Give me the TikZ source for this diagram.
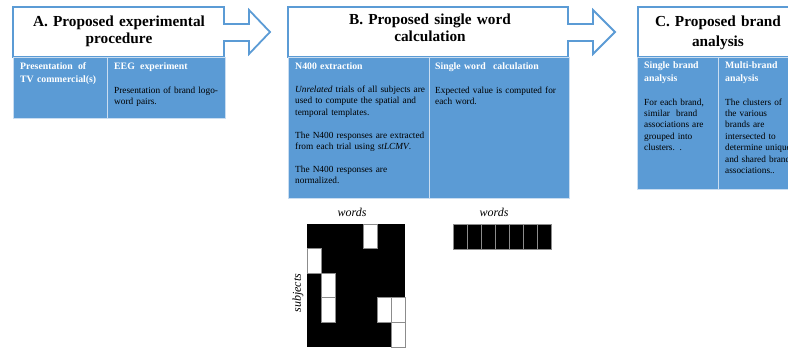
\documentclass[tikz,border=0pt]{standalone}
\usepackage{fontspec}
\setmainfont{Liberation Serif}
\definecolor{cellblue}{HTML}{5B9BD5}
\definecolor{cellline}{HTML}{C9DDF1}
\definecolor{hdrline}{HTML}{5B9BD5}
\definecolor{gridline}{HTML}{8C8C8C}
\begin{document}
\hyphenpenalty=10000\relax
\begin{tikzpicture}[x=1pt,y=-1pt,
 hdr/.style={draw=hdrline, line width=1.8pt, fill=white, line join=miter},
 cell/.style={draw=cellline, line width=0.8pt, fill=cellblue, inner sep=0pt, anchor=north west},
 ttl/.style={align=center, text width=220pt, inner sep=0pt, anchor=base},
 head/.style={font=\bfseries\fontsize{9.8}{13}\selectfont, text=white, align=left, text width=140pt, inner sep=0pt, anchor=base west},
 body/.style={font=\fontsize{9.3}{11.4}\selectfont, text=black, align=left, text width=140pt, inner sep=0pt, anchor=base west},
 lbl/.style={font=\itshape\fontsize{12}{14}\selectfont, inner sep=0pt},
 blk/.style={fill=black},
 wht/.style={fill=white, draw=gridline, line width=0.8pt},
 rcell/.style={fill=black, draw=gridline, line width=0.8pt},
]
\useasboundingbox (0,0) rectangle (788,348);
\clip (0,0) rectangle (788,348);

% header callouts
\draw[hdr] (13,57) -- (13,7) -- (224,7) -- (224,24) -- (249,24) -- (249,10) -- (270,32) -- (249,54) -- (249,41) -- (224,41) -- (224,57) -- cycle;
\draw[hdr] (288,57) -- (288,7) -- (568,7) -- (568,24) -- (593,24) -- (593,10) -- (615,32) -- (593,54) -- (593,41) -- (568,41) -- (568,57) -- cycle;
\draw[hdr] (638,57) -- (638,7) -- (800,7) -- (800,57) -- cycle;

% titles
\node[ttl, font=\bfseries\fontsize{15.3}{17}\selectfont] (ta) at (119,26.5) {A. Proposed experimental\\procedure};
\node[ttl, font=\bfseries\fontsize{15.3}{17.5}\selectfont] (tb) at (430,24) {B. Proposed single word\\calculation};
\node[ttl, font=\bfseries\fontsize{15.3}{19.5}\selectfont] (tc) at (718,27) {C. Proposed brand\\analysis};

% cells
\node[cell, minimum width=94pt, minimum height=61pt] (a1) at (13,57) {};
\node[cell, minimum width=118pt, minimum height=61pt] (a2) at (107,57) {};
\node[cell, minimum width=141pt, minimum height=141pt] (b1) at (288,57) {};
\node[cell, minimum width=140pt, minimum height=141pt] (b2) at (429,57) {};
\node[cell, minimum width=81pt, minimum height=132pt] (c1) at (637,57) {};
\node[cell, minimum width=90pt, minimum height=132pt] (c2) at (718,57) {};

% cell texts
\node[head] (a1h) at (20,69.5) {Presentation\hspace{2pt} of\\TV commercial(s)};
\node[head] (a2h) at (114,69.5) {EEG\hspace{2pt} experiment};
\node[body] (a2b) at (114,93) {Presentation of brand logo-\\word pairs.};

\node[head] (b1h) at (295,69.5) {N400 extraction};
\node[body] (b1b) at (295,92.5) {\textit{Unrelated} trials of all subjects are\\used to compute the spatial and\\temporal templates.\\[11.4pt]The N400 responses are extracted\\from each trial using \textit{stLCMV}.\\[11.4pt]The N400 responses are\\normalized.};
\node[head] (b2h) at (435,69.5) {Single word\hspace{4pt} calculation};
\node[body] (b2b) at (435,93) {Expected value is computed for\\each word.};

\node[head] (c1h) at (644,68.5) {Single brand\\analysis};
\node[body] (c1b) at (644,105) {For each brand,\\similar\hspace{3pt} brand\\associations are\\grouped into\\clusters. .};
\node[head] (c2h) at (725,68.5) {Multi-brand\\analysis};
\node[body] (c2b) at (725,105) {The clusters of\\the various\\brands are\\intersected to\\determine unique\\and shared brand\\associations..};

% subject x word matrix
\fill[blk] (307,224) rectangle (405,347);
\foreach \c/\r in {4/0,0/1,1/2,1/3,5/3,6/3,6/4}
  \filldraw[wht] ({307+14*\c},{224+24.6*\r}) rectangle ++(14,24.6);
\node[lbl, anchor=base] (w1) at (352,216) {words};
\node[lbl, rotate=90] (subj) at (298,293) {subjects};

% single word vector
\foreach \c in {0,...,6}
  \filldraw[rcell] ({453+14.1*\c},224) rectangle ++(14.1,25);
\node[lbl, anchor=base] (w2) at (494,216) {words};
\end{tikzpicture}
\end{document}
